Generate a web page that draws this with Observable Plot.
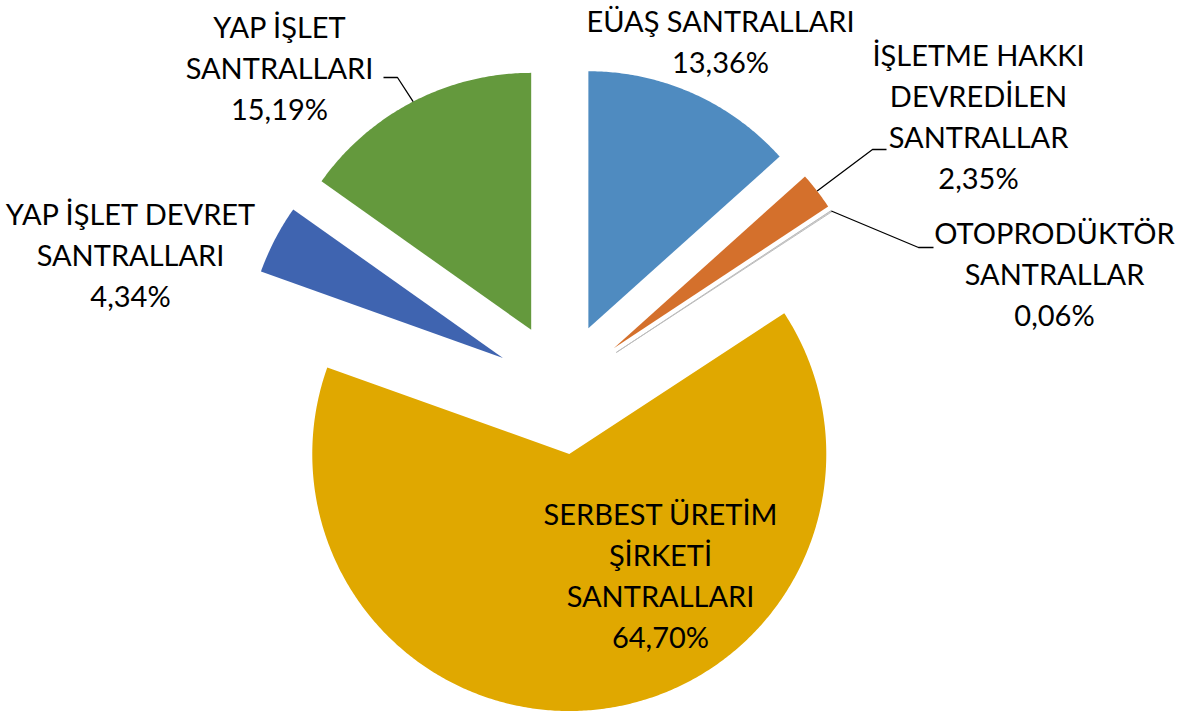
<!DOCTYPE html>
<html>
<head>
<meta charset="utf-8">
<script src="https://cdn.jsdelivr.net/npm/d3@7"></script>
<script src="https://cdn.jsdelivr.net/npm/@observablehq/plot@0.6"></script>
<style>
  html, body { margin: 0; padding: 0; background: #fff; overflow: hidden; }
  svg { display: block; }
</style>
</head>
<body>
<div id="chart"></div>
<script>
// ---- data ----
const categories = [
  "EÜAŞ SANTRALLARI",
  "İŞLETME HAKKI DEVREDİLEN SANTRALLAR",
  "OTOPRODÜKTÖR SANTRALLAR",
  "SERBEST ÜRETİM ŞİRKETİ SANTRALLARI",
  "YAP İŞLET DEVRET SANTRALLARI",
  "YAP İŞLET SANTRALLARI"
];
const labelLines = [
  ["EÜAŞ SANTRALLARI"],
  ["İŞLETME HAKKI", "DEVREDİLEN", "SANTRALLAR"],
  ["OTOPRODÜKTÖR", "SANTRALLAR"],
  ["SERBEST ÜRETİM", "ŞİRKETİ", "SANTRALLARI"],
  ["YAP İŞLET DEVRET", "SANTRALLARI"],
  ["YAP İŞLET", "SANTRALLARI"]
];
const shares = [13.36, 2.35, 0.06, 64.70, 4.34, 15.19];
const colors = ["#4F8BC0", "#D4702C", "#C8C8C8", "#E0A800", "#3F64B0", "#64993D"];

// ---- layout (pixels) ----
const W = 1189, H = 715;
const CX = 561, CY = 388, R = 257, EXPLODE = 66;
const FONT = 29, LINE = 41;
// label anchor: center x, baseline of last line
const labelPos = [
  [720, 72], [978, 188], [1054, 325], [660, 647], [130, 306], [279, 119]
];
// leader lines: [elbow, end] for labelled slices with leaders
const leaders = [
  {i: 1, elbow: [872, 149], end: [886, 149]},
  {i: 2, elbow: [918, 247], end: [933, 247]},
  {i: 5, elbow: [397, 77], end: [383, 77]}
];

const ux = px => (px - CX) / R;
const uy = py => (CY - py) / R;
const e = EXPLODE / R;

// ---- geometry from data ----
const total = d3.sum(shares);
let acc = 0;
const slices = shares.map((v, i) => {
  const a0 = acc / total * 2 * Math.PI;
  acc += v;
  const a1 = acc / total * 2 * Math.PI;
  const m = (a0 + a1) / 2;
  const ox = e * Math.sin(m), oy = e * Math.cos(m);
  const pts = [{x: ox, y: oy}];
  const n = Math.max(2, Math.ceil((a1 - a0) / (Math.PI / 360)));
  for (let k = 0; k <= n; k++) {
    const a = a0 + (a1 - a0) * k / n;
    pts.push({x: ox + Math.sin(a), y: oy + Math.cos(a)});
  }
  const outer = {x: ox + Math.sin(m), y: oy + Math.cos(m)};
  return {i, name: categories[i], color: colors[i], pts, outer};
});

const fmt = v => v.toFixed(2).replace(".", ",") + "%";
const labels = categories.map((c, i) => ({
  text: [...labelLines[i], fmt(shares[i])].join("\n"),
  x: ux(labelPos[i][0]),
  y: uy(labelPos[i][1])
}));

const leaderPts = leaders.flatMap(l => {
  const s = slices[l.i];
  return [
    {id: l.i, x: s.outer.x, y: s.outer.y},
    {id: l.i, x: ux(l.elbow[0]), y: uy(l.elbow[1])},
    {id: l.i, x: ux(l.end[0]), y: uy(l.end[1])}
  ];
});

const chart = Plot.plot({
  width: W,
  height: H,
  margin: 0,
  x: {domain: [ux(0), ux(W)], axis: null},
  y: {domain: [uy(H), uy(0)], axis: null},
  style: {background: "#fff", fontFamily: "Lato, 'Open Sans', sans-serif"},
  marks: [
    ...slices.map(s => Plot.line(s.pts, {
      x: "x", y: "y",
      fill: s.color,
      stroke: s.i === 2 ? "#BDBDBD" : "none",
      strokeWidth: s.i === 2 ? 1 : 0,
      curve: "linear-closed"
    })),
    Plot.line(leaderPts, {x: "x", y: "y", z: "id", stroke: "#000", strokeWidth: 1.3, strokeLinecap: "butt", strokeLinejoin: "miter"}),
    Plot.text(labels, {
      x: "x", y: "y", text: "text",
      textAnchor: "middle", lineAnchor: "bottom",
      lineHeight: LINE / FONT, fontSize: FONT, fill: "#000"
    })
  ]
});
document.getElementById("chart").append(chart);
</script>
</body>
</html>
